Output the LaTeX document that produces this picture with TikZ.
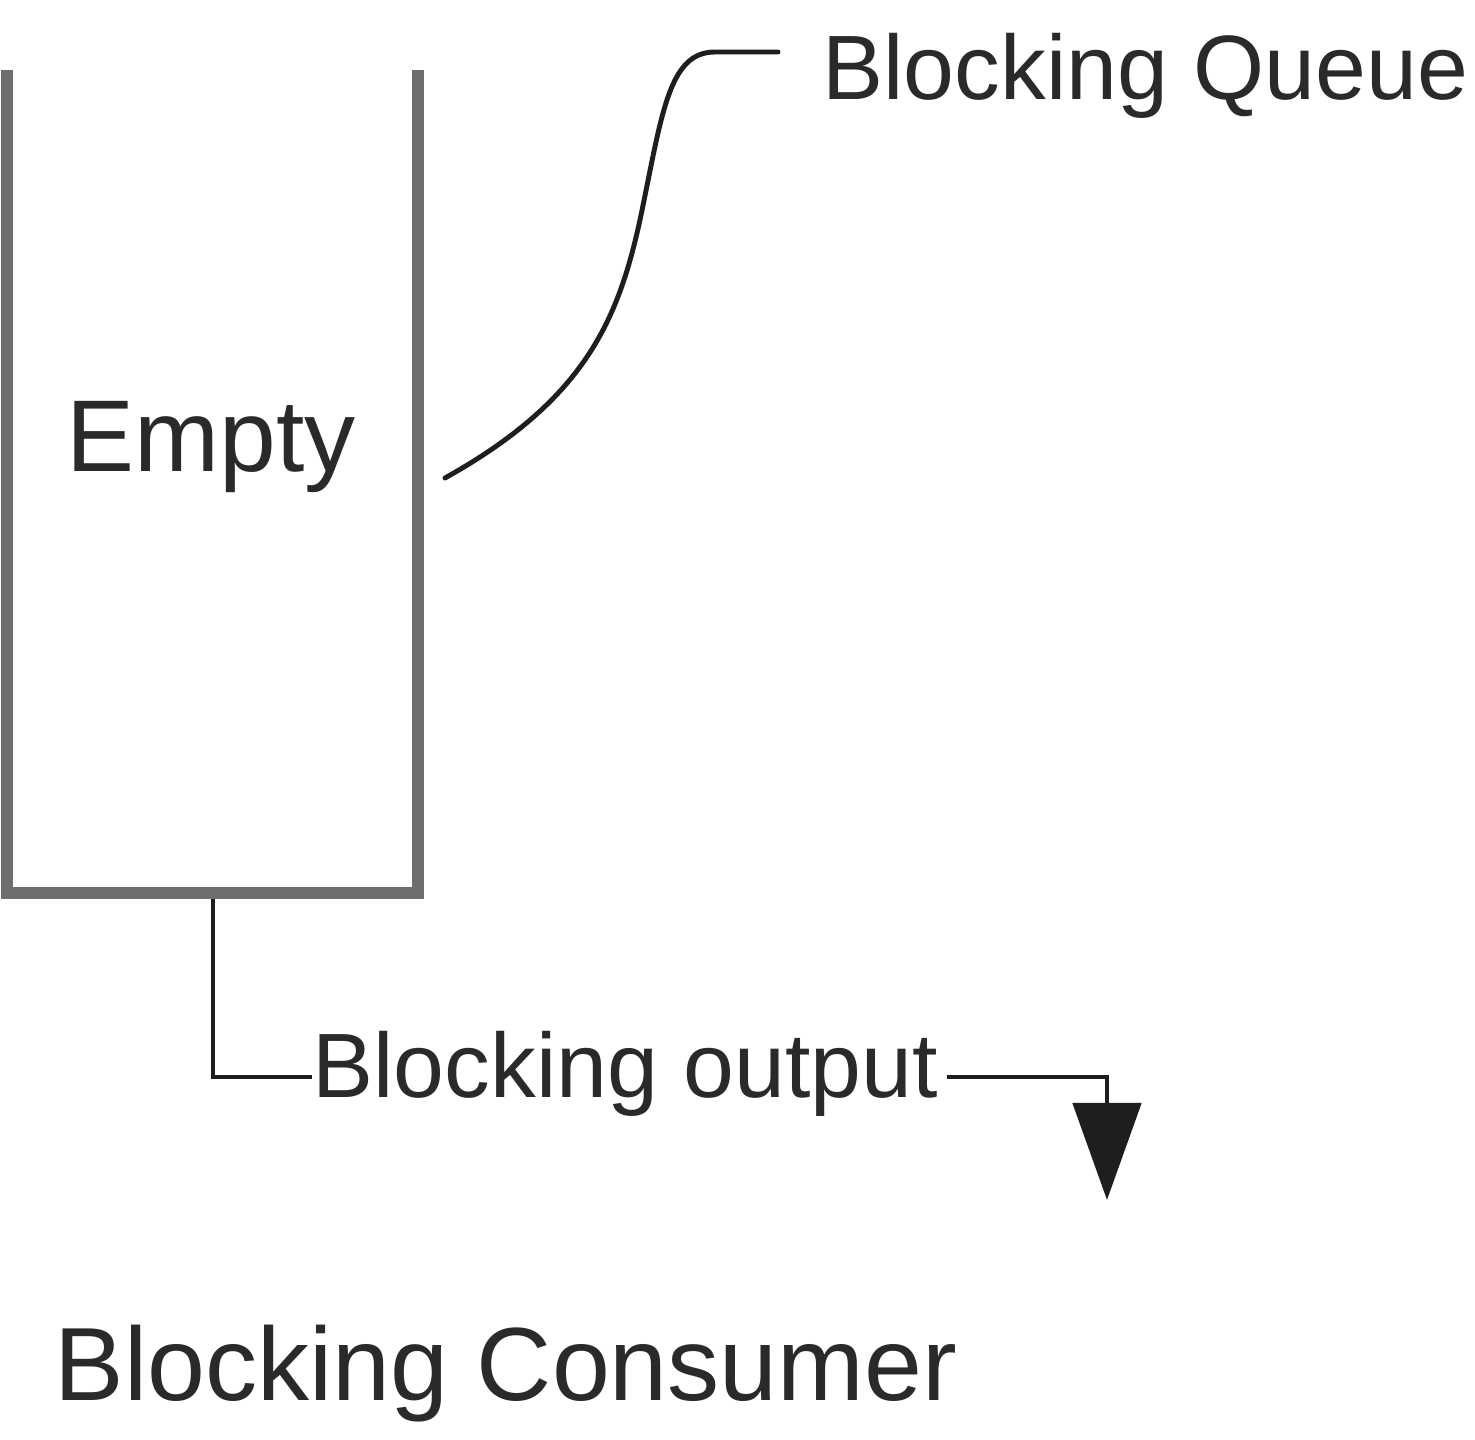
\documentclass[tikz,border=0pt]{standalone}
\usepackage{fontspec}
\setmainfont{Liberation Sans}
\usetikzlibrary{arrows.meta}
\definecolor{wallgray}{HTML}{6E6E6E}
\definecolor{ink}{HTML}{1E1E1E}
\definecolor{txt}{HTML}{2A2A2A}
\begin{document}
\begin{tikzpicture}[x=0.01cm,y=-0.01cm,
  wall/.style={draw=wallgray,line width=3.4pt,line join=miter,line cap=butt},
  conn/.style={draw=ink,line width=1.4pt,line join=miter},
  lbl/.style={inner sep=0pt,anchor=base west,text=txt},
  big/.style={font=\fontsize{29pt}{34pt}\selectfont},
  mid/.style={font=\fontsize{26pt}{31pt}\selectfont},
  cons/.style={font=\fontsize{29.6pt}{35pt}\selectfont}]
\useasboundingbox (0,0) rectangle (1475,1440);
\fill[white] (0,0) rectangle (1475,1440);
% container
\coordinate (tl) at (7,70);
\coordinate (bl) at (7,893);
\coordinate (br) at (418,893);
\coordinate (tr) at (418,70);
\coordinate (bmid) at (213,899);
\draw[wall] (tl) -- (bl) -- (br) -- (tr);
\node[lbl,big] (empty) at (66,472) {Empty};
% labels
\node[lbl,mid] (queue) at (822,100) {Blocking Queue};
\node[lbl,mid] (output) at (312,1097) {Blocking output};
\node[lbl,cons] (consumer) at (54,1400) {Blocking Consumer};
% curve pointer
\coordinate (cstart) at (445,478);
\coordinate (cmid) at (640,220);
\coordinate (cend) at (778,52);
\draw[conn,line cap=round] (cstart) .. controls (585,400) and (618,320) .. (cmid)
  .. controls (662,115) and (668,52) .. (715,52) -- (cend);
% output path
\coordinate (bend1) at (213,1077);
\coordinate (bend2) at (1107,1077);
\coordinate (tip) at (1107,1200);
\draw[conn] (bmid) -- (bend1) -- (output.west |- bend1);
\draw[conn,-{Triangle[length=0.97cm,width=0.68cm]}] (output.east |- bend2) ++(8,0) -- (bend2) -- (tip);
\end{tikzpicture}
\end{document}
